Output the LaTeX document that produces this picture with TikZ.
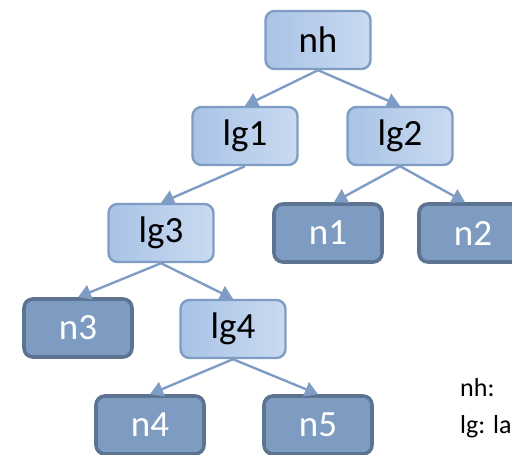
\documentclass[tikz,border=0pt]{standalone}
\usepackage{fontspec}
\setmainfont{Carlito}
\usetikzlibrary{arrows.meta}
\definecolor{lightL}{HTML}{A9C3E6}
\definecolor{lightR}{HTML}{C9DAF0}
\definecolor{lightB}{HTML}{7F9CC3}
\definecolor{darkF}{HTML}{7E9CC1}
\definecolor{darkB}{HTML}{5C7492}
\definecolor{edgeC}{HTML}{7F9DC4}
\tikzset{
  lgbox/.style={draw=lightB, line width=2.4pt, rounded corners=9pt,
    left color=lightL, right color=lightR, minimum width=105pt, minimum height=58pt,
    font=\fontsize{37}{40}\selectfont, text=black, inner sep=0pt},
  leafbox/.style={draw=darkB, line width=3.6pt, rounded corners=9pt,
    fill=darkF, minimum width=108pt, minimum height=58pt,
    font=\fontsize{37}{40}\selectfont, text=white, inner sep=0pt},
  link/.style={draw=edgeC, line width=2.4pt, -{Triangle[length=13pt,width=15pt]}},
  legend/.style={font=\fontsize{26}{30}\selectfont, anchor=west, inner sep=0pt}
}
\begin{document}
\begin{tikzpicture}[x=1pt,y=-1pt]
\useasboundingbox (0,0) rectangle (512,455);
\clip (0,0) rectangle (512,455);
\node[lgbox] (nh) at (318,40) {nh};
\node[lgbox] (lg1) at (245,136) {lg1};
\node[lgbox] (lg2) at (400,136) {lg2};
\node[lgbox] (lg3) at (161,233) {lg3};
\node[leafbox] (n1) at (328,233) {n1};
\node[leafbox] (n2) at (473,233) {n2};
\node[leafbox] (n3) at (78,328) {n3};
\node[lgbox] (lg4) at (233,329) {lg4};
\node[leafbox] (n4) at (150,425) {n4};
\node[leafbox] (n5) at (318,425) {n5};
\draw[link] (nh.south) -- (lg1.north);
\draw[link] (nh.south) -- (lg2.north);
\draw[link] (lg1.south) -- (lg3.north);
\draw[link] (lg2.south) -- ([xshift=6pt]n1.north);
\draw[link] (lg2.south) -- ([xshift=-8pt]n2.north);
\draw[link] (lg3.south) -- (n3.north);
\draw[link] (lg3.south) -- (lg4.north);
\draw[link] (lg4.south) -- (n4.north);
\draw[link] (lg4.south) -- (n5.north);
\node[legend] (l1) at (460,388) {nh:};
\node[legend] (l2) at (460,427) {lg: la};
\end{tikzpicture}
\end{document}
